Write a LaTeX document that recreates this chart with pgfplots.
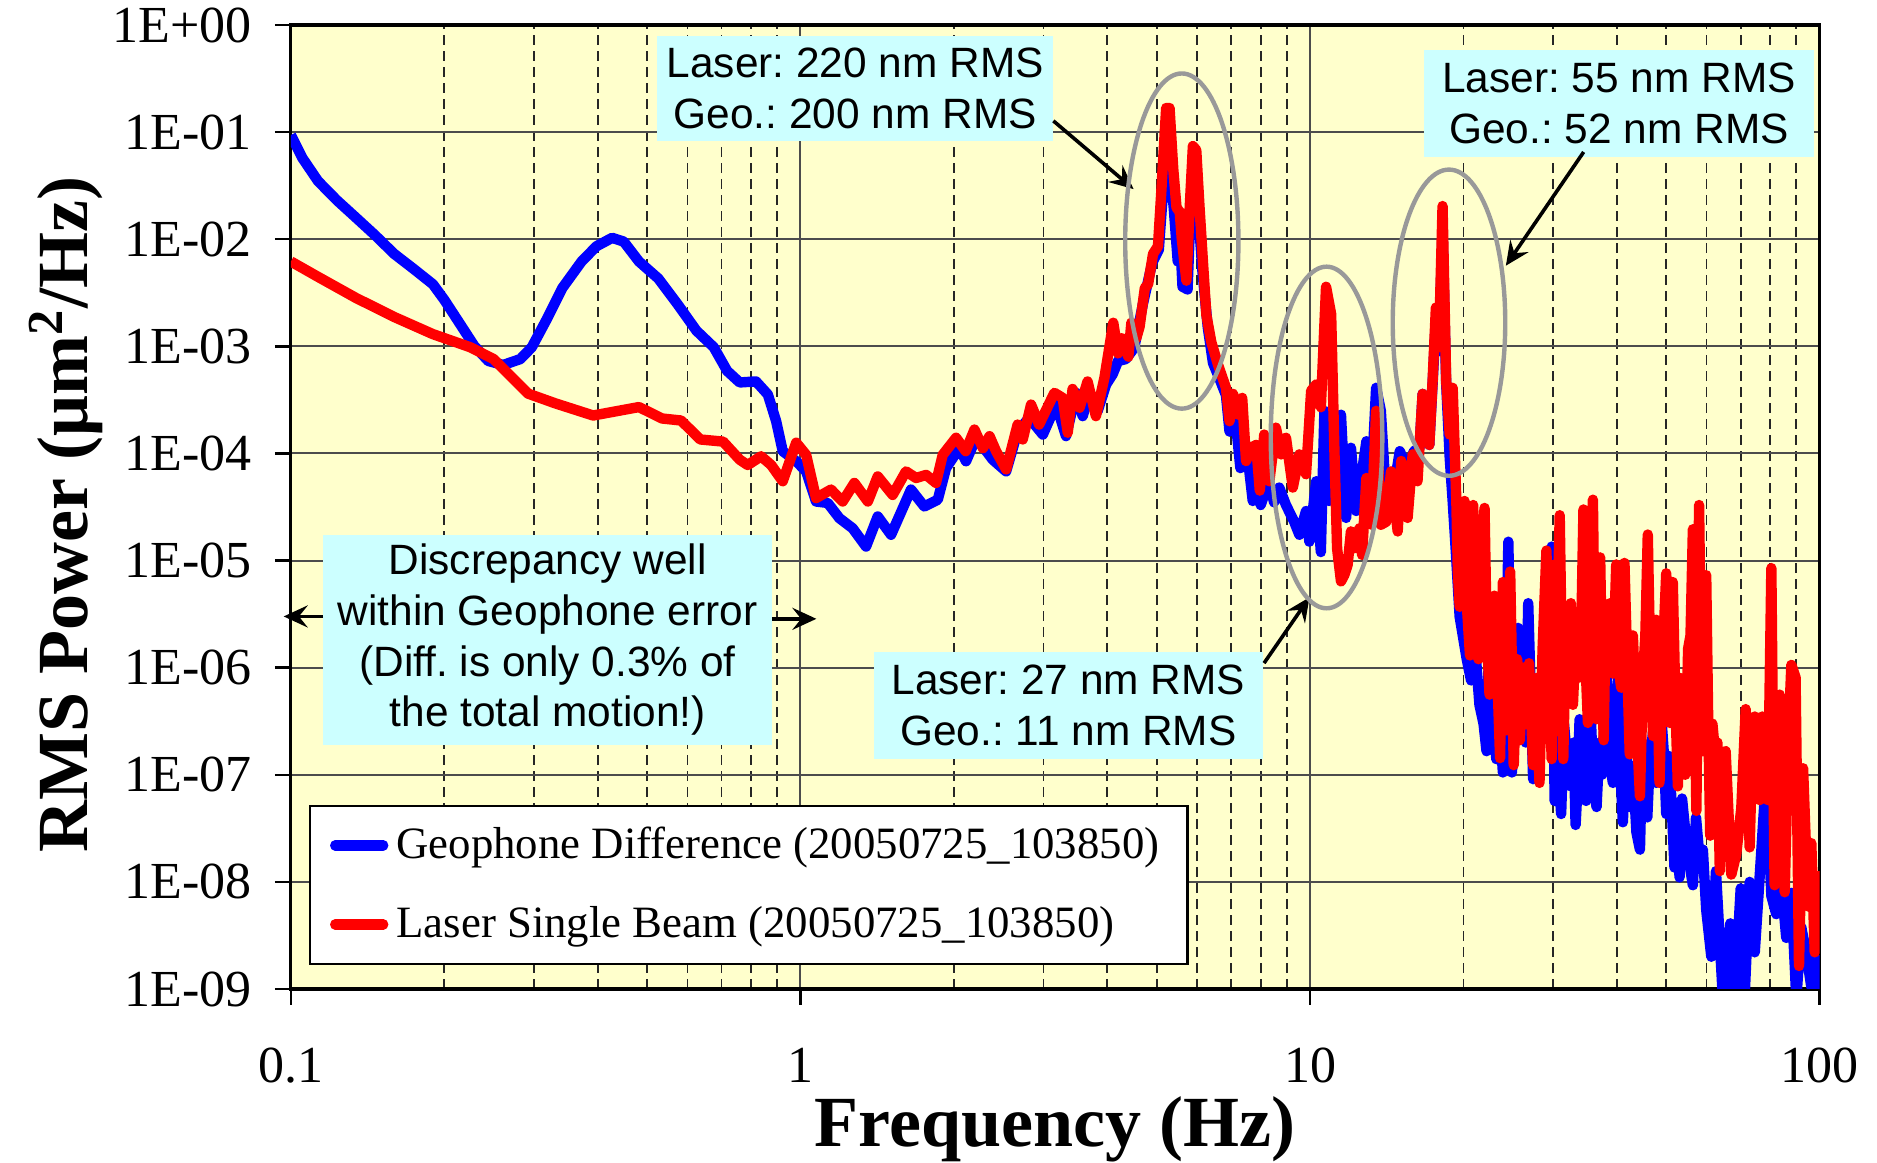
\documentclass[border=0pt]{standalone}
\usepackage{fontspec}
\setmainfont{Liberation Serif}
\newfontfamily\arial{Liberation Sans}
\usepackage{pgfplots}
\pgfplotsset{compat=1.18}
\usetikzlibrary{arrows.meta}
\definecolor{bgyellow}{HTML}{FFFFCC}
\definecolor{boxcyan}{HTML}{CCFFFF}
\definecolor{ellgray}{HTML}{999999}
\definecolor{geoblue}{HTML}{0000FF}
\definecolor{laserred}{HTML}{FF0000}
\frenchspacing
\begin{document}
\begin{tikzpicture}
\useasboundingbox (0,0) rectangle (469.25pt,290.75pt);
\begin{axis}[
  at={(72.72pt,43.5pt)}, anchor=south west,
  scale only axis, width=382.2pt, height=241.0pt,
  xmode=log, ymode=log,
  xmin=0.1, xmax=100, ymin=1e-9, ymax=1,
  axis background/.style={fill=bgyellow},
  axis line style={line width=0.8pt, black},
  xtick={0.1,1,10,100}, xticklabels={0.1,1,10,100},
  ytick={1e-9,1e-8,1e-7,1e-6,1e-5,1e-4,1e-3,1e-2,1e-1,1},
  yticklabels={1E-09,1E-08,1E-07,1E-06,1E-05,1E-04,1E-03,1E-02,1E-01,1E+00},
  minor xtick={0.2,0.3,0.4,0.5,0.6,0.7,0.8,0.9,2,3,4,5,6,7,8,9,20,30,40,50,60,70,80,90},
  minor ytick={},
  xminorgrids=true, xmajorgrids=true, ymajorgrids=true,
  minor grid style={black!85, dash pattern=on 2.6pt off 1.4pt, line width=0.45pt},
  major grid style={black!70, line width=0.5pt},
  tick align=outside, tick pos=left,
  major tick length=4pt, minor tick length=0pt,
  tick style={black, line width=0.6pt},
  ticklabel style={font=\fontsize{13}{13}\selectfont},
  yticklabel style={inner sep=0pt, anchor=east, xshift=-5.7pt},
  xticklabel style={inner sep=0pt, anchor=north, yshift=-10.5pt},
  xlabel={\textbf{Frequency (Hz)}},
  ylabel={\textbf{RMS Power (μm\textsuperscript{2}/Hz)}},
  every axis x label/.style={at={(axis description cs:0.5,0)}, anchor=base, yshift=-39.5pt, font=\fontsize{18}{18}\selectfont},
  every axis y label/.style={at={(axis description cs:0,0.5)}, rotate=90, anchor=base, yshift=50.9pt, xshift=-1.9pt, font=\fontsize{18}{18}\selectfont},
  legend style={at={(0.01175,0.1913)}, anchor=north west, draw=black, line width=0.6pt, fill=white,
    font=\fontsize{11.2}{13}\selectfont, inner xsep=5pt, inner ysep=3.2pt, row sep=6.45pt,
    nodes={inner sep=2pt, text depth=0.15em}},
  legend cell align=left,
  legend image code/.code={\draw[#1, line cap=round] (0pt,0pt) -- (12pt,0pt);},
]
\addplot[geoblue, line width=2.6pt, line join=round] coordinates {
(0.1,0.094) (0.1053,0.0575) (0.113,0.035) (0.123,0.0232) (0.134,0.016) (0.146,0.011)
(0.1595,0.0073) (0.174,0.0053) (0.19,0.0038) (0.2,0.00272) (0.214,0.00166) (0.229,0.00101)
(0.244,0.00073) (0.261,0.00067) (0.282,0.00076) (0.297,0.00098) (0.318,0.0018) (0.341,0.0035)
(0.372,0.0062) (0.398,0.0086) (0.427,0.0103) (0.45,0.0095) (0.482,0.0062) (0.526,0.0043)
(0.573,0.0025) (0.625,0.0014) (0.676,0.00098) (0.718,0.00059) (0.76,0.00046) (0.818,0.00047)
(0.863,0.000355) (0.896,0.0002) (0.923,0.000105) (0.981,0.0000845) (1.026,0.000068)
(1.073,0.0000356) (1.131,0.0000345) (1.192,0.0000249) (1.266,0.00002) (1.345,0.0000135)
(1.418,0.0000258) (1.506,0.0000174) (1.648,0.000046) (1.75,0.000032) (1.86,0.000037)
(1.931,0.000073) (2.05,0.000112) (2.113,0.0000845) (2.212,0.00014) (2.384,0.0000875)
(2.533,0.000068) (2.668,0.00016) (2.81,0.000215) (2.99,0.00015) (3.175,0.000286)
(3.32,0.000145) (3.475,0.000368) (3.58,0.000223) (3.69,0.000368) (3.83,0.000248)
(3.98,0.00044) (4.1,0.00055) (4.2,0.00073) (4.35,0.00076) (4.52,0.00097) (4.7,0.0025)
(4.9,0.006) (5.05,0.008) (5.12,0.02) (5.22,0.053) (5.3,0.05) (5.4,0.02) (5.5,0.0062)
(5.55,0.012) (5.62,0.0036) (5.75,0.0034) (5.85,0.03) (5.95,0.055) (6.05,0.015) (6.15,0.005)
(6.3,0.0015) (6.45,0.0007) (6.64,0.0005) (6.84,0.00035) (6.95,0.00016) (7.1,0.00028)
(7.3,0.000073) (7.5,0.00012) (7.72,0.000036) (7.9,0.00006) (8.0,0.000033) (8.3,0.000055)
(8.5,0.000035) (8.7,0.000048) (8.97,0.000033) (9.31,0.000023) (9.53,0.0000174)
(9.82,0.000029) (9.97,0.000015) (10.28,0.000055) (10.5,0.000012) (10.67,0.00025)
(10.9,0.000036) (11.2,0.000113) (11.5,0.00023) (11.77,0.000025) (12.03,0.000113)
(12.32,0.000029) (12.6,0.000059) (12.9,0.00013) (13.2,0.000055) (13.48,0.00041)
(13.77,0.00025) (14.1,0.000038) (14.5,0.000038) (15.0,0.000105) (15.5,0.000073)
(16.0,0.000105) (16.4,0.000113) (16.63,0.00036) (17.14,0.00012) (17.4,0.00045)
(17.66,0.0018) (17.9,0.0009) (18.2,0.012) (18.5,0.00045) (18.8,0.000091) (19.05,0.000036)
(19.3,0.0000135) (19.66,0.000003) (20.3,0.0000012) (20.7,0.00000076) (21.0,0.000002)
(21.5,0.00000045) (21.9,0.0000003) (22.2,0.000000166) (22.4,0.000001) (22.7,0.00000056)
(23.2,0.00000014) (23.5,0.0000004) (23.9,0.000000105) (24.2,0.0000006) (24.5,0.000015)
(24.9,0.000000105) (25.2,0.0000005) (25.6,0.00000235) (25.9,0.0000012) (26.2,0.00000056)
(26.5,0.0000002) (26.8,0.000004) (27.1,0.0000006) (27.4,0.000000091) (27.8,0.0000002)
(28.2,0.00000038) (28.6,0.0000005) (29.1,0.0000012) (29.5,0.0000003) (29.8,0.0000135)
(30.2,0.000000057) (30.6,0.00000015) (31.1,0.000000043) (31.5,0.0000003) (31.8,0.00000018)
(32.2,0.0000001) (32.5,0.000000078) (32.9,0.0000002) (33.2,0.000000034) (33.5,0.00000008)
(33.8,0.00000033) (34.2,0.00000015) (34.8,0.000000057) (35.2,0.00000022) (35.6,0.000000305)
(36.0,0.00000008) (36.5,0.00000005) (37.0,0.0000002) (37.4,0.0000001) (37.8,0.0000003)
(38.1,0.0000012) (38.6,0.00000015) (39.3,0.000000084) (39.8,0.0000004) (40.2,0.00000081)
(40.6,0.00000012) (41.1,0.000000036) (41.7,0.0000002) (42.4,0.00000005) (43.0,0.00000012)
(43.7,0.000000029) (44.4,0.00000002) (44.9,0.0000002) (45.4,0.000000057) (45.9,0.00000004)
(46.4,0.00000013) (47.1,0.00000025) (47.8,0.000000084) (48.4,0.00000012) (49.0,0.000000305)
(49.5,0.00000015) (50.0,0.000000043) (50.6,0.00000015) (51.2,0.000000057) (51.9,0.0000000136)
(52.5,0.00000004) (53.1,0.000000011) (53.7,0.00000006) (54.6,0.000000027) (55.5,0.000000015)
(56.4,0.0000000093) (57.2,0.00000004) (58.1,0.000000017) (59.0,0.00000002) (59.9,0.0000000055)
(61.3,0.000000002) (62.6,0.0000000126) (64.6,0.0000000008) (66.8,0.0000000041)
(68.1,0.0000000008) (70.0,0.0000000087) (71.3,0.0000000009) (72.9,0.00000001)
(74.6,0.0000000022) (76.8,0.0000000186) (78.6,0.000000105) (80.4,0.0000000074)
(82.2,0.000000005) (84.1,0.00000001) (86.0,0.000000003) (88.0,0.0000000079)
(90.0,0.0000000008) (92.0,0.0000000038) (94.1,0.0000000022) (96.3,0.00000000105)
(98.5,0.0000000019) (100,0.0000000008)
};
\addlegendentry{Geophone Difference (20050725\_103850)}
\addplot[laserred, line width=2.6pt, line join=round] coordinates {
(0.1,0.0062) (0.113,0.00446) (0.134,0.00284) (0.1595,0.00188) (0.19,0.0013) (0.225,0.00098)
(0.25,0.00076) (0.268,0.000546) (0.292,0.000362) (0.33,0.000294) (0.392,0.000226)
(0.482,0.000271) (0.535,0.000212) (0.583,0.000203) (0.636,0.000135) (0.705,0.000129)
(0.76,0.0000875) (0.788,0.000078) (0.837,0.000094) (0.876,0.000078) (0.923,0.000055)
(0.981,0.000126) (1.026,0.000097) (1.073,0.0000383) (1.148,0.000046) (1.21,0.0000356)
(1.276,0.000053) (1.356,0.0000356) (1.418,0.000061) (1.517,0.000041) (1.611,0.000068)
(1.686,0.000059) (1.765,0.000063) (1.845,0.000053) (1.902,0.000097) (2.02,0.00014)
(2.11,0.000105) (2.195,0.000167) (2.28,0.000112) (2.35,0.000145) (2.42,0.000105)
(2.533,0.000071) (2.668,0.000186) (2.73,0.000135) (2.835,0.000286) (2.94,0.000186)
(3.15,0.000368) (3.27,0.00033) (3.346,0.000156) (3.42,0.0004) (3.53,0.000267) (3.66,0.00047)
(3.8,0.000223) (3.95,0.00051) (4.11,0.00166) (4.2,0.00086) (4.27,0.00119) (4.4,0.0008)
(4.46,0.00166) (4.56,0.00119) (4.63,0.00153) (4.74,0.0035) (4.81,0.0038) (4.92,0.0073)
(5.03,0.0086) (5.1,0.0252) (5.22,0.168) (5.3,0.168) (5.39,0.045) (5.47,0.0197) (5.55,0.018)
(5.6,0.0102) (5.72,0.0041) (5.8,0.018) (5.89,0.074) (5.98,0.068) (6.07,0.0197) (6.17,0.0057)
(6.26,0.00196) (6.4,0.0011) (6.6,0.00067) (6.84,0.00041) (6.95,0.0002) (7.06,0.00036)
(7.24,0.00023) (7.36,0.00033) (7.49,0.000085) (7.66,0.000113) (7.84,0.00012) (7.97,0.000045)
(8.13,0.00015) (8.32,0.000055) (8.57,0.000174) (8.78,0.000098) (8.97,0.00014) (9.25,0.000048)
(9.53,0.000098) (9.82,0.000064) (10.05,0.000384) (10.28,0.00044) (10.5,0.00027)
(10.75,0.0036) (11.0,0.002) (11.16,0.000113) (11.3,0.000013) (11.5,0.0000064)
(11.67,0.0000073) (11.85,0.0000091) (12.03,0.0000187) (12.2,0.000013) (12.5,0.00002)
(12.65,0.0000113) (12.9,0.000059) (13.2,0.0000216) (13.48,0.00025) (13.77,0.0000216)
(14.1,0.000023) (14.42,0.000068) (14.86,0.0000187) (15.1,0.000085) (15.54,0.000025)
(15.9,0.000098) (16.25,0.000055) (16.63,0.00036) (17.14,0.00012) (17.4,0.00048)
(17.66,0.0023) (17.9,0.00098) (18.2,0.0204) (18.5,0.00048) (18.8,0.00015) (19.05,0.00041)
(19.37,0.000036) (19.5,0.000008) (19.66,0.0000037) (19.85,0.00001) (20.1,0.000036) (20.3,0.000004) (20.6,0.0000013)
(20.9,0.000033) (21.1,0.000003) (21.4,0.0000012) (21.7,0.000009) (22.0,0.000031) (22.2,0.0000025) (22.5,0.00000056)
(23.0,0.0000047) (23.3,0.0000009) (23.6,0.000000143) (23.9,0.0000063) (24.1,0.0000009) (24.3,0.00000026)
(24.7,0.0000079) (24.9,0.000001) (25.1,0.000000123) (25.5,0.0000012) (25.8,0.00000021)
(26.2,0.000001) (26.5,0.0000003) (26.9,0.0000011) (27.4,0.000000123) (27.8,0.0000008) (28.2,0.000000084) (28.6,0.0000015)
(29.1,0.0000124) (29.4,0.000001) (29.8,0.00000014) (30.2,0.0000092) (30.5,0.0000015) (30.9,0.0000265) (31.2,0.0000012) (31.4,0.00000014) (31.8,0.000003) (32.1,0.0000013)
(32.5,0.000004) (32.8,0.00000045) (33.3,0.0000025) (33.8,0.00000081) (34.1,0.000003) (34.4,0.00003) (34.7,0.0000012) (35.1,0.000000305)
(35.5,0.000003) (35.9,0.000037) (36.2,0.0000015) (36.5,0.00000033) (36.8,0.000002) (37.1,0.0000107) (37.4,0.000001) (37.7,0.00000021) (38.0,0.0000025) (38.4,0.00000138)
(38.8,0.000004) (39.3,0.00000088) (39.9,0.0000092) (40.3,0.000001) (40.8,0.00000065) (41.1,0.000003) (41.4,0.0000095) (41.9,0.0000012) (42.4,0.000000155)
(42.7,0.0000015) (43.0,0.000002) (43.6,0.0000004) (44.4,0.000000063) (45.0,0.00000081) (45.5,0.000002) (46.0,0.0000175) (46.5,0.0000012) (47.1,0.00000023)
(47.8,0.0000028) (48.5,0.000000084) (49.2,0.0000012) (50.0,0.0000076) (50.8,0.000000305) (51.5,0.0000063) (52.1,0.0000005)
(52.7,0.000000078) (53.4,0.0000008) (53.9,0.0000006) (54.5,0.0000001) (55.2,0.0000015) (55.8,0.000002) (56.4,0.0000196) (56.8,0.0000009) (57.3,0.000000046)
(58.0,0.000033) (58.5,0.0000011) (59.0,0.000000166) (59.9,0.0000073) (60.4,0.0000004) (61.0,0.000000027) (61.6,0.0000003) (62.2,0.00000018)
(63.0,0.0000002) (63.7,0.0000000126) (64.5,0.00000015) (65.4,0.000000166) (66.3,0.00000004) (67.1,0.0000000117) (68.6,0.000000018)
(70.2,0.000000049) (71.6,0.00000041) (72.9,0.000000021) (73.8,0.0000002) (74.6,0.00000035) (75.5,0.0000001) (76.3,0.000000058)
(77.2,0.00000035) (78.2,0.0000001) (79.2,0.000000058) (80.4,0.0000085) (81.0,0.0000002) (81.6,0.0000000093) (82.5,0.0000001) (83.5,0.00000056)
(85.4,0.000000008) (86.8,0.0000002) (88.0,0.00000106) (89.7,0.00000081) (91.1,0.00000000164)
(92.8,0.000000115) (94.9,0.0000000059) (96.3,0.000000023) (97.8,0.0000000022)
(99.7,0.0000000126)
};
\addlegendentry{Laser Single Beam (20050725\_103850)}
\end{axis}
\begin{scope}[x=0.29926pt, y=-0.29926pt, shift={(0pt,290.75pt)}]
\tikzset{abox/.style={fill=boxcyan, inner sep=0pt, align=center, font=\arial\fontsize{10.6}{12.7}\selectfont},
  aarrow/.style={line width=0.9pt, -{Stealth[length=6pt, width=5.5pt, inset=2.2pt]}}}
\node[abox, minimum width=99pt, minimum height=26.3pt] at (714.5,74) {Laser: 220 nm RMS\\Geo.: 200 nm RMS};
\node[abox, minimum width=97.3pt, minimum height=26.6pt] at (1352.5,86.5) {Laser: 55 nm RMS\\Geo.: 52 nm RMS};
\node[abox, minimum width=97.3pt, minimum height=26.6pt] at (892.5,589.5) {Laser: 27 nm RMS\\Geo.: 11 nm RMS};
\node[abox, minimum width=112.2pt, minimum height=52.4pt] at (457.5,534.5) {Discrepancy well\\within Geophone error\\(Diff. is only 0.3\% of\\the total motion!)};
\draw[aarrow] (880,101) -- (947,158);
\draw[aarrow] (1323,127) -- (1258,222);
\draw[aarrow] (1056,554) -- (1094,499);
\draw[aarrow] (270,515) -- (237,515);
\draw[aarrow] (645,517) -- (682,517);
\draw[ellgray, line width=1.1pt] (987.3,201.4) ellipse [x radius=47.3, y radius=140];
\draw[ellgray, line width=1.1pt] (1108.2,365.5) ellipse [x radius=46.6, y radius=142.7];
\draw[ellgray, line width=1.1pt] (1210.5,269.6) ellipse [x radius=47, y radius=127.9];
\end{scope}
\end{tikzpicture}
\end{document}
